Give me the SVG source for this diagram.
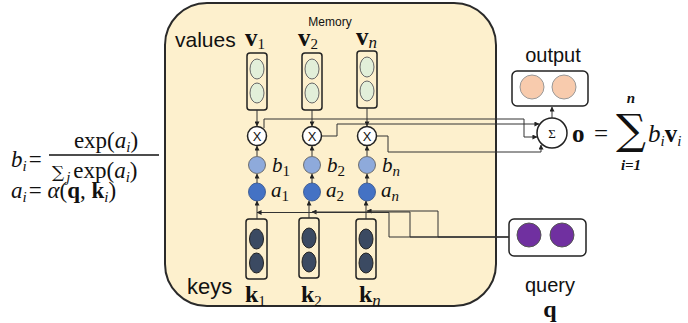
<svg xmlns="http://www.w3.org/2000/svg" width="688" height="323" viewBox="0 0 688 323">
<defs>
<marker id="ah" viewBox="0 0 6 6" refX="5.5" refY="3" markerWidth="5" markerHeight="5" orient="auto" markerUnits="userSpaceOnUse">
<path d="M0,0 L6,3 L0,6 Z" fill="#222"/>
</marker>
<style>
.sans{font-family:"Liberation Sans",Arial,sans-serif;fill:#111}
.ser{font-family:"Liberation Serif","DejaVu Serif",serif;fill:#111}
.it{font-style:italic}
.bd{font-weight:bold}
.vbox{fill:none;stroke:#222;stroke-width:1.5}
.vel{fill:#e2efd9;stroke:#666;stroke-width:1}
.kel{fill:#3b4a62;stroke:#222;stroke-width:1}
.xc{fill:#fff;stroke:#222;stroke-width:1.5}
.bc{fill:#8eaadb;stroke:#555;stroke-width:0.8}
.ac{fill:#4472c4;stroke:#2f4f8a;stroke-width:0.8}
.con{fill:none;stroke:#333;stroke-width:1}
.arr{marker-end:url(#ah)}
</style>
</defs>

<g id="memory">
<rect x="165" y="3" width="331" height="303" rx="42" ry="42" fill="#fdf0cd" stroke="#2a2a2a" stroke-width="2"/>
<text class="sans" x="330" y="26" font-size="12" text-anchor="middle">Memory</text>
<text class="sans" x="175" y="47" font-size="21">values</text>
<text class="sans" x="187" y="294" font-size="22">keys</text>
</g>

<g id="v1">
<rect class="vbox" x="247" y="53" width="20" height="57" rx="3"/>
<ellipse class="vel" cx="257" cy="69" rx="7" ry="10"/>
<ellipse class="vel" cx="257" cy="93" rx="7" ry="10"/>
<text class="ser bd" x="245" y="46" font-size="25">v<tspan font-size="15" dy="3" font-weight="normal">1</tspan></text>
</g>
<g id="v2">
<rect class="vbox" x="302" y="53" width="20" height="57" rx="3"/>
<ellipse class="vel" cx="312" cy="69" rx="7" ry="10"/>
<ellipse class="vel" cx="312" cy="93" rx="7" ry="10"/>
<text class="ser bd" x="298" y="46" font-size="25">v<tspan font-size="15" dy="3" font-weight="normal">2</tspan></text>
</g>
<g id="vn">
<rect class="vbox" x="357" y="51" width="20" height="57" rx="3"/>
<ellipse class="vel" cx="367" cy="67" rx="7" ry="10"/>
<ellipse class="vel" cx="367" cy="91" rx="7" ry="10"/>
<text class="ser bd" x="356" y="45" font-size="25">v<tspan class="it" font-size="17" dy="3" font-weight="normal">n</tspan></text>
</g>

<g id="x1"><circle class="xc" cx="257" cy="136" r="9.5"/><text class="sans" x="257" y="141" font-size="13" text-anchor="middle">X</text></g>
<g id="x2"><circle class="xc" cx="312" cy="136" r="9.5"/><text class="sans" x="312" y="141" font-size="13" text-anchor="middle">X</text></g>
<g id="xn"><circle class="xc" cx="367" cy="136" r="9.5"/><text class="sans" x="367" y="141" font-size="13" text-anchor="middle">X</text></g>

<g id="b1"><circle class="bc" cx="257" cy="165" r="8.5"/><text class="ser it" x="272" y="172" font-size="21">b<tspan font-size="15" dy="4" font-style="normal">1</tspan></text></g>
<g id="b2"><circle class="bc" cx="312" cy="165" r="8.5"/><text class="ser it" x="327" y="172" font-size="21">b<tspan font-size="15" dy="4" font-style="normal">2</tspan></text></g>
<g id="bn"><circle class="bc" cx="367" cy="165" r="8.5"/><text class="ser it" x="382" y="172" font-size="21">b<tspan font-size="15" dy="4">n</tspan></text></g>

<g id="a1"><ellipse class="ac" cx="257" cy="192" rx="8.5" ry="9"/><text class="ser it" x="271" y="197" font-size="21">a<tspan font-size="15" dy="4" font-style="normal">1</tspan></text></g>
<g id="a2"><ellipse class="ac" cx="312" cy="192" rx="8.5" ry="9"/><text class="ser it" x="326" y="197" font-size="21">a<tspan font-size="15" dy="4" font-style="normal">2</tspan></text></g>
<g id="an"><ellipse class="ac" cx="367" cy="192" rx="8.5" ry="9"/><text class="ser it" x="381" y="197" font-size="21">a<tspan font-size="15" dy="4">n</tspan></text></g>

<g id="k1">
<rect class="vbox" x="246" y="219" width="21" height="60" rx="3"/>
<ellipse class="kel" cx="256.5" cy="239" rx="7" ry="10"/>
<ellipse class="kel" cx="256.5" cy="263" rx="7" ry="10"/>
<text class="ser bd" x="245" y="302" font-size="24">k<tspan font-size="15" dy="4" font-weight="normal">1</tspan></text>
</g>
<g id="k2">
<rect class="vbox" x="299" y="218" width="20" height="60" rx="3"/>
<ellipse class="kel" cx="309" cy="238" rx="7" ry="10"/>
<ellipse class="kel" cx="309" cy="262" rx="7" ry="10"/>
<text class="ser bd" x="301" y="302" font-size="24">k<tspan font-size="15" dy="4" font-weight="normal">2</tspan></text>
</g>
<g id="kn">
<rect class="vbox" x="356" y="219" width="20" height="60" rx="3"/>
<ellipse class="kel" cx="366" cy="239" rx="7" ry="10"/>
<ellipse class="kel" cx="366" cy="263" rx="7" ry="10"/>
<text class="ser bd" x="359" y="302" font-size="24">k<tspan class="it" font-size="17" dy="4" font-weight="normal">n</tspan></text>
</g>

<g id="sum"><circle class="xc" cx="552" cy="133" r="15"/><text class="ser" x="552" y="138" font-size="13" text-anchor="middle">Σ</text></g>

<g id="output">
<text class="sans" x="553" y="62" font-size="20" text-anchor="middle">output</text>
<rect x="512" y="71" width="76" height="35" rx="5" fill="#fff" stroke="#222" stroke-width="1.5"/>
<circle cx="532" cy="87" r="12" fill="#f8cbad" stroke="#999" stroke-width="1"/>
<circle cx="564" cy="87" r="12" fill="#f8cbad" stroke="#999" stroke-width="1"/>
</g>

<g id="query">
<rect x="509" y="219" width="77" height="37" rx="5" fill="#fff" stroke="#222" stroke-width="1.5"/>
<circle cx="529" cy="235" r="12" fill="#7030a0" stroke="#555" stroke-width="1"/>
<circle cx="562" cy="235" r="12" fill="#7030a0" stroke="#555" stroke-width="1"/>
<text class="sans" x="550" y="292" font-size="20" text-anchor="middle">query</text>
<text class="ser bd" x="550" y="317" font-size="24" text-anchor="middle">q</text>
</g>

<g id="formula-o">
<text class="ser bd" x="572" y="142" font-size="25">o</text>
<text class="ser" x="594" y="142" font-size="25">=</text>
<text class="ser bd it" x="631" y="103" font-size="15" text-anchor="middle">n</text>
<text x="631" y="144" font-size="42" text-anchor="middle" font-family="DejaVu Serif,serif" fill="#111">∑</text>
<text class="ser bd it" x="631" y="170" font-size="15" text-anchor="middle">i=1</text>
<text class="ser it" x="648" y="142" font-size="25">b<tspan font-size="15" dy="4">i</tspan><tspan class="bd" font-style="normal" font-size="25" dy="-4">v</tspan><tspan font-size="15" dy="4">i</tspan></text>
</g>

<g id="formula-left">
<text class="ser it" x="11" y="167" font-size="23">b<tspan font-size="15" dy="4">i</tspan><tspan font-style="normal" font-size="23" dy="-4" dx="2">=</tspan></text>
<text class="ser" x="106" y="148" font-size="23" text-anchor="middle">exp(<tspan font-style="italic">a</tspan><tspan font-style="italic" font-size="15" dy="4">i</tspan><tspan dy="-4">)</tspan></text>
<line x1="49" y1="155" x2="159" y2="155" stroke="#111" stroke-width="1.5"/>
<text class="ser" x="52" y="178" font-size="23"><tspan font-family="DejaVu Serif,serif" font-size="17">∑</tspan><tspan font-style="italic" font-size="15" dy="4" dx="2">j</tspan><tspan dy="-4" dx="3">exp(</tspan><tspan font-style="italic">a</tspan><tspan font-style="italic" font-size="15" dy="4">i</tspan><tspan dy="-4">)</tspan></text>
<text class="ser" x="11" y="198" font-size="23"><tspan font-style="italic">a</tspan><tspan font-style="italic" font-size="15" dy="4">i</tspan><tspan dy="-4" dx="2">= </tspan><tspan font-style="italic">α</tspan>(<tspan font-weight="bold">q</tspan>, <tspan font-weight="bold">k</tspan><tspan font-style="italic" font-size="15" dy="4">i</tspan><tspan dy="-4">)</tspan></text>
</g>

<g id="connectors">
<path class="con arr" d="M257,110 V126"/>
<path class="con arr" d="M312,110 V126"/>
<path class="con arr" d="M367,108 V126"/>
<path class="con arr" d="M257,156 V146"/>
<path class="con arr" d="M312,156 V146"/>
<path class="con arr" d="M367,156 V146"/>
<path class="con arr" d="M257,183 V174"/>
<path class="con arr" d="M312,183 V174"/>
<path class="con arr" d="M367,183 V174"/>
<path class="con arr" d="M257,219 V201"/>
<path class="con arr" d="M309,218 V201"/>
<path class="con arr" d="M366,219 V201"/>
<path class="con arr" d="M509,237 H438 V211 H367"/>
<path class="con arr" d="M509,237 H410 V212 H312"/>
<path class="con arr" d="M509,237 H389 V212.5 H257"/>
<path class="con arr" d="M264,128 V119 H524 V137 H537"/>
<path class="con arr" d="M322,136 H337 V124 H539"/>
<path class="con arr" d="M377,136 H388 V152 H541 V145"/>
<path class="con arr" d="M552,118 V107"/>
</g>
</svg>
